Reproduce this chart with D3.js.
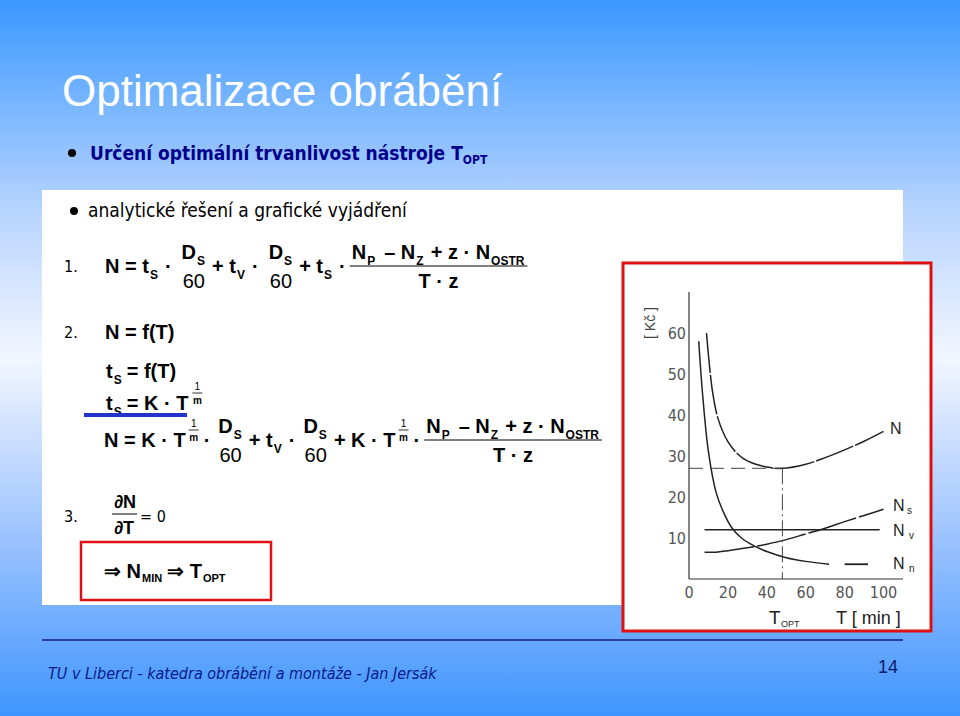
<!DOCTYPE html><html><head><meta charset="utf-8">
<script src="https://cdn.jsdelivr.net/npm/d3@7"></script>
<style>body{margin:0}svg{display:block}</style></head><body>
<script>
const xTicks=[0,20,40,60,80,100];
const yTicks=[10,20,30,40,50,60];
const curveN=[[9,60],[12,46],[15,39],[20,33.5],[25,30.5],[30,28.8],[40,27.3],[48,27],[60,28],[70,29.6],[80,31.5],[90,33.6],[100,36]];
const curveNn=[[5,58],[7,45],[10,31],[14,21],[18,16],[22,12.5],[27,10],[33,8.2],[40,6.7],[50,5.2],[60,4.3],[72,3.6]];
const tailNn=[[80,3.6],[92,3.6]];
const curveNs=[[8,6.5],[15,6.6],[20,6.9],[30,7.6],[40,8.5],[50,9.6],[60,11],[70,12.4],[80,14],[90,15.5],[100,17]];
const curveNv=[[8,12],[98,12]];
const tOpt=48, nMin=27;

const W=960,H=716;
const svg=d3.select("body").append("svg").attr("width",W).attr("height",H);
const defs=svg.append("defs");
const g=defs.append("linearGradient").attr("id","bg").attr("x1",0).attr("y1",0).attr("x2",0).attr("y2",1);
[[0,"#3b98ff"],[0.3,"#b9d5ff"],[0.5,"#f2f6ff"],[0.75,"#9cc3ff"],[1,"#3f95ff"]].forEach(s=>g.append("stop").attr("offset",s[0]).attr("stop-color",s[1]));
svg.append("rect").attr("width",W).attr("height",H).attr("fill","url(#bg)");
svg.append("rect").attr("x",42).attr("y",190).attr("width",861).attr("height",415).attr("fill","#fff");

const F="Liberation Sans, Arial, sans-serif";
const FN="DejaVu Sans Condensed, Liberation Sans, sans-serif";
function t(x,y,s,size,opt={}){return svg.append("text").attr("x",x).attr("y",y).text(s)
 .attr("font-family",opt.f||F).attr("font-size",size).attr("font-weight",opt.b?"bold":"normal")
 .attr("font-style",opt.i?"italic":"normal").attr("fill",opt.c||"#000").attr("text-anchor",opt.a||"start");}
function ln(x1,y1,x2,y2,w=1,c="#000"){svg.append("line").attr("x1",x1).attr("y1",y1).attr("x2",x2).attr("y2",y2).attr("stroke",c).attr("stroke-width",w);}
const FS=20, SS=12;
function flow(x,y,items){
  for(const it of items){
    if(typeof it==="string"){const e=t(x,y,it,FS,{b:1});x+=e.node().getComputedTextLength();}
    else if(it.n!==undefined){const e=t(x,y,it.n,FS);x+=e.node().getComputedTextLength();}
    else if(it.sub){const e=t(x+1,y+6,it.sub,SS,{b:1});x+=e.node().getComputedTextLength()+2;}
    else if(it.gap){x+=it.gap;}
    else if(it.exp){t(x+6,y-20,"1",10,{a:"middle"});ln(x+1,y-17,x+11,y-17,0.8);t(x+6,y-6,"m",10,{a:"middle",b:1});x+=14;}
    else if(it.frac){
      const w1=measure(it.frac[0]),w2=measure(it.frac[1]);
      const w=Math.max(w1,w2);
      flow(x+(w-w1)/2,y-14,it.frac[0]);flow(x+(w-w2)/2,y+15,it.frac[1]);
      if(it.line) ln(x-2,y-7,x+w+2,y-7,1.2);
      x+=w+2;
    }
  }
  return x;
}
function measure(items){const tmp=svg.append("g").attr("opacity",0);let x=0;
  for(const it of items){let e;
    if(typeof it==="string"){e=tmp.append("text").text(it).attr("font-family",F).attr("font-size",FS).attr("font-weight","bold");x+=e.node().getComputedTextLength();}
    else if(it.n!==undefined){e=tmp.append("text").text(it.n).attr("font-family",F).attr("font-size",FS);x+=e.node().getComputedTextLength();}
    else if(it.sub){e=tmp.append("text").text(it.sub).attr("font-family",F).attr("font-size",SS).attr("font-weight","bold");x+=e.node().getComputedTextLength()+2;}
    else if(it.gap)x+=it.gap;}
  tmp.remove();return x;}

t(62,106,"Optimalizace obrábění",44,{c:"#fff"});
svg.append("circle").attr("cx",72).attr("cy",153).attr("r",4).attr("fill","#000");
const st=t(90,160,"Určení optimální trvanlivost nástroje T",19,{b:1,c:"#00008b",f:FN});
t(90+st.node().getComputedTextLength(),164,"OPT",12,{b:1,c:"#00008b",f:FN});
svg.append("circle").attr("cx",74).attr("cy",211).attr("r",4).attr("fill","#000");
t(88,217,"analytické řešení a grafické vyjádření",19,{f:FN});

const DS=[{gap:4},{frac:[["D",{sub:"S"}],[{n:"60"}]]},{gap:4}];
const NUM=["N",{sub:"P"},{gap:8},"– N",{sub:"Z"},{gap:6},"+ z · N",{sub:"OSTR"}];
const DEN=["T · z"];
// formula 1
t(64,272,"1.",16,{f:FN});
flow(105,273,["N = t",{sub:"S"},{gap:6},"·",{gap:6},...DS,"+ t",{sub:"V"},{gap:6},"·",{gap:6},...DS,"+ t",{sub:"S"},{gap:6},"·",{gap:6},{frac:[NUM,DEN],line:1}]);

// formula 2
t(64,338,"2.",16,{f:FN}); flow(105,339,["N = f(T)"]);
flow(106,378,["t",{sub:"S"},{gap:4},"= f(T)"]);
const e2=flow(106,410,["t",{sub:"S"},{gap:4},"= K · T"]); flow(e2+3,410,[{exp:1}]);
ln(84,415,187,415,4,"#2233cc");
flow(104,447,["N = K · T",{gap:2},{exp:1},{gap:2},"·",{gap:4},...DS,"+ t",{sub:"V"},{gap:6},"·",{gap:4},...DS,"+ K · T",{gap:2},{exp:1},{gap:2},"·",{gap:6},{frac:[NUM,DEN],line:1}]);

// formula 3
t(64,522,"3.",16,{f:FN});
t(114,508,"∂N",18,{b:1}); ln(112,514,137,514); t(114,534,"∂T",18,{b:1}); t(140,522,"= 0",16,{f:FN});
svg.append("rect").attr("x",81).attr("y",542).attr("width",190).attr("height",58).attr("fill","none").attr("stroke","#e01010").attr("stroke-width",2.5);
const a1=t(104,578,"⇒ N",20,{b:1});const ax1=104+a1.node().getComputedTextLength()+1;
const s1=t(ax1,582,"MIN",11,{b:1});const ax2=ax1+s1.node().getComputedTextLength()+5;
const a2=t(ax2,578,"⇒ T",20,{b:1});t(ax2+a2.node().getComputedTextLength()+1,582,"OPT",11,{b:1});

// chart box
svg.append("rect").attr("x",623).attr("y",263).attr("width",308).attr("height",368).attr("fill","#fff").attr("stroke","#e01010").attr("stroke-width",3);
const x=d3.scaleLinear().domain([0,110]).range([689,903]);
const y=d3.scaleLinear().domain([0,70]).range([579,292]);
const ax=svg.append("g");
ax.append("line").attr("x1",x(0)).attr("x2",x(110)).attr("y1",y(0)).attr("y2",y(0)).attr("stroke","#333").attr("stroke-width",1.2);
ax.append("line").attr("x1",x(0)).attr("x2",x(0)).attr("y1",y(0)).attr("y2",y(70)).attr("stroke","#333").attr("stroke-width",1.2);
xTicks.forEach(v=>{t(x(v),598,v,16,{a:"middle",c:"#555",f:FN});});
yTicks.forEach(v=>{t(686,y(v)+6,v,16,{a:"end",c:"#555",f:FN});});
t(0,0,"[ Kč ]",14,{c:"#444",a:"middle"}).attr("transform","translate(655,323) rotate(-90)");
const line=d3.line().x(d=>x(d[0])).y(d=>y(d[1]));
const cline=d3.line().x(d=>x(d[0])).y(d=>y(d[1])).curve(d3.curveCatmullRom);
function path(data,gen,dash,w=1.5){svg.append("path").attr("d",gen(data)).attr("fill","none").attr("stroke","#222").attr("stroke-width",w).attr("stroke-dasharray",dash||null);}
path(curveN,cline,"40,2");
path(curveNn,cline,null);
path(tailNn,line,null,1.8);
path(curveNs,cline,"50,3");
path(curveNv,line,null);
svg.append("line").attr("x1",x(0)).attr("x2",x(tOpt)).attr("y1",y(nMin)).attr("y2",y(nMin)).attr("stroke","#444").attr("stroke-dasharray","14,7");
svg.append("line").attr("x1",x(tOpt)).attr("x2",x(tOpt)).attr("y1",y(nMin)).attr("y2",y(0)).attr("stroke","#444").attr("stroke-dasharray","16,4,2,4");
t(890,434,"N",16,{c:"#222"});
t(893,511,"N",16,{c:"#222"}); t(907,514,"s",10,{c:"#222"});
t(893,536,"N",16,{c:"#222"}); t(909,539,"v",10,{c:"#222"});
t(893,569,"N",16,{c:"#222"}); t(909,572,"n",10,{c:"#222"});
t(769,624,"T",19,{c:"#222"}); t(781,627,"OPT",9,{c:"#222"});
t(836,624,"T  [ min ]",18,{c:"#222"});

// footer
ln(42,640,903,640,2,"#2a3f9a");
t(48,679,"TU v Liberci  - katedra obrábění a montáže - Jan Jersák",16,{i:1,c:"#0a1a8a",f:FN});
t(878,673,"14",18,{c:"#0a1a6a"});
</script></body></html>
